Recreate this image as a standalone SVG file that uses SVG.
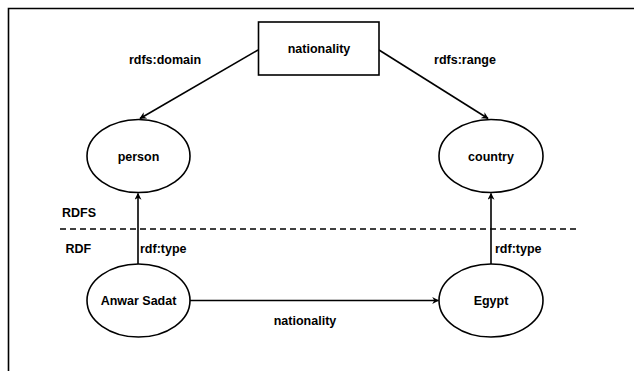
<svg xmlns="http://www.w3.org/2000/svg" width="634" height="371" viewBox="0 0 634 371">
<style>
.shape{fill:#fff;stroke:#000;stroke-width:1.6}
.edge{fill:none;stroke:#000;stroke-width:1.6}
text{font-family:"Liberation Sans",Arial,Helvetica,sans-serif;font-weight:bold;font-size:12.5px;fill:#000}
.c{text-anchor:middle}
</style>
<defs>
<marker id="arr" viewBox="0 0 10 10" refX="9" refY="5" markerWidth="7" markerHeight="7" markerUnits="userSpaceOnUse" orient="auto">
<path d="M0,0 L10,5 L0,10 L3,5 Z" fill="#000"/>
</marker>
</defs>
<rect width="634" height="371" fill="#fff"/>
<g id="frame"><path d="M8.5,371 V8.5 H634" fill="none" stroke="#000" stroke-width="1.6"/></g>
<g id="connectors">
<line class="edge" x1="258" y1="50" x2="140" y2="118.5" marker-end="url(#arr)"/>
<line class="edge" x1="379" y1="50" x2="488" y2="118.5" marker-end="url(#arr)"/>
<line class="edge" x1="138" y1="264" x2="138" y2="193.5" marker-end="url(#arr)"/>
<line class="edge" x1="491" y1="264" x2="491" y2="193.5" marker-end="url(#arr)"/>
<line class="edge" x1="190" y1="300.5" x2="438.5" y2="300.5" marker-end="url(#arr)"/>
<line x1="60" y1="229" x2="577" y2="229" stroke="#000" stroke-width="1.6" stroke-dasharray="6,4"/>
<text class="c" x="165" y="63.5">rdfs:domain</text>
<text class="c" x="465" y="63.5">rdfs:range</text>
<text x="140" y="252.5">rdf:type</text>
<text x="495" y="252.5">rdf:type</text>
<text class="c" x="305" y="324.5">nationality</text>
</g>
<g id="layers">
<text x="62" y="216.5">RDFS</text>
<text x="65.5" y="252.5">RDF</text>
</g>
<g id="nationality">
<rect class="shape" x="258.5" y="22" width="120.5" height="53"/>
<text class="c" x="319" y="53">nationality</text>
</g>
<g id="person">
<ellipse class="shape" cx="138.5" cy="156" rx="51.5" ry="36.5"/>
<text class="c" x="138.5" y="160.5">person</text>
</g>
<g id="country">
<ellipse class="shape" cx="491" cy="156" rx="52" ry="36.5"/>
<text class="c" x="491" y="160.5">country</text>
</g>
<g id="anwar">
<ellipse class="shape" cx="138.5" cy="300.5" rx="51.5" ry="36.5"/>
<text class="c" x="138.5" y="305">Anwar Sadat</text>
</g>
<g id="egypt">
<ellipse class="shape" cx="491" cy="300.5" rx="52" ry="36.5"/>
<text class="c" x="491" y="305">Egypt</text>
</g>
</svg>
